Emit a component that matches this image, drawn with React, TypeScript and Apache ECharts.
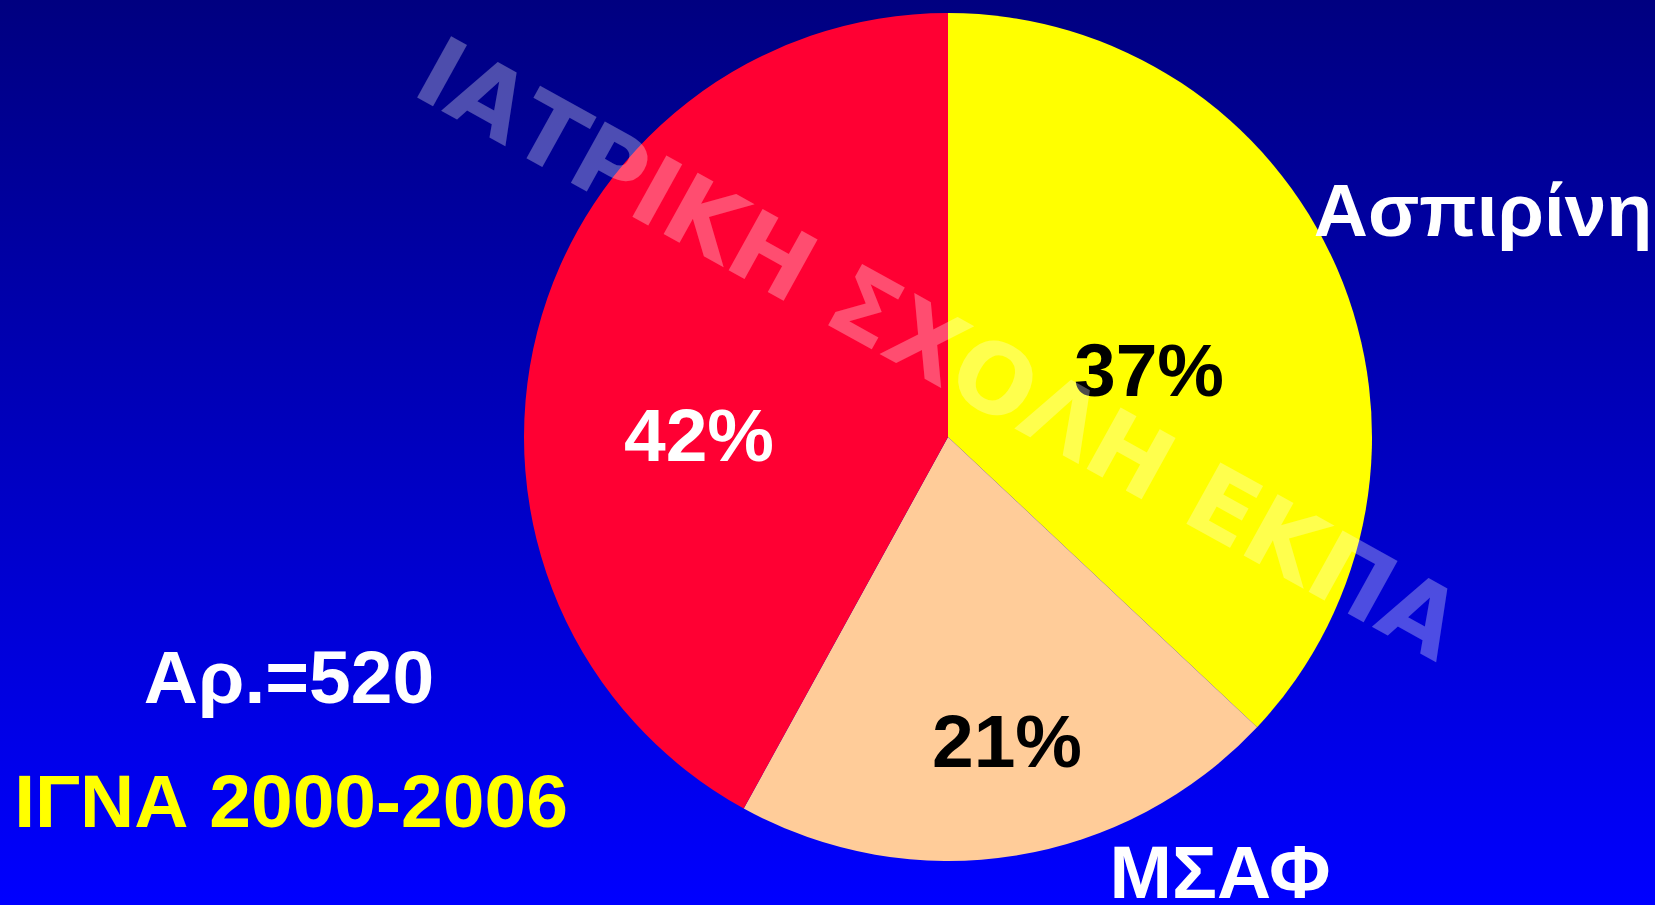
import React, { useEffect, useRef } from "react";
import * as echarts from "echarts";

// ---- data ----
const categories = ["Ασπιρίνη", "ΜΣΑΦ", ""];
const percentValues = [37, 21, 42];
const sliceColors = ["#FFFF00", "#FFCC99", "#FF0033"];
const percentLabelColors = ["#000000", "#000000", "#FFFFFF"];
const sampleNote = "Αρ.=520";
const sourceNote = "ΙΓΝΑ 2000-2006";
const watermarkText = "ΙΑΤΡΙΚΗ ΣΧΟΛΗ ΕΚΠΑ";

// label anchor positions (page pixels)
const percentLabelPos = [
  [1149, 370],
  [1007, 741],
  [699, 435],
];
const namePos = [
  [1483, 210],
  [1220, 872],
];

const FONT = '"Liberation Sans", Arial, sans-serif';

export default function App() {
  const ref = useRef<HTMLDivElement>(null);
  useEffect(() => {
    if (!ref.current) return;
    const chart = echarts.init(ref.current, undefined, { renderer: "svg" });
    const data = percentValues.map((v, i) => ({
      value: v,
      name: categories[i],
      itemStyle: { color: sliceColors[i] },
      label: { color: percentLabelColors[i] },
    }));
    const nameTexts = namePos.map((p, i) => ({
      type: "text",
      x: p[0],
      y: p[1],
      z: 50,
      style: {
        text: categories[i],
        fill: "#FFFFFF",
        font: `bold 75px ${FONT}`,
        textAlign: "center",
        textVerticalAlign: "middle",
      },
    }));
    chart.setOption({
      animation: false,
      backgroundColor: new echarts.graphic.LinearGradient(0, 0, 0, 1, [
        { offset: 0, color: "#000080" },
        { offset: 1, color: "#0000FF" },
      ]),
      series: [
        {
          type: "pie",
          center: [948, 437],
          radius: 424,
          startAngle: 90,
          clockwise: true,
          silent: true,
          data,
          itemStyle: { borderWidth: 0 },
          label: {
            show: true,
            position: "inside",
            formatter: "{c}%",
            fontFamily: FONT,
            fontWeight: "bold",
            fontSize: 75,
          },
          labelLine: { show: false },
          labelLayout: (params: any) => {
            const p = percentLabelPos[params.dataIndex];
            return { x: p[0], y: p[1], align: "center", verticalAlign: "middle" };
          },
        },
      ],
      graphic: [
        ...nameTexts,
        {
          type: "text",
          x: 289,
          y: 677,
          z: 50,
          style: {
            text: sampleNote,
            fill: "#FFFFFF",
            font: `bold 75px ${FONT}`,
            textAlign: "center",
            textVerticalAlign: "middle",
          },
        },
        {
          type: "text",
          x: 291,
          y: 801,
          z: 50,
          style: {
            text: sourceNote,
            fill: "#FFFF00",
            font: `bold 75px ${FONT}`,
            textAlign: "center",
            textVerticalAlign: "middle",
          },
        },
        {
          type: "text",
          x: 939,
          y: 349,
          z: 100,
          rotation: (-29 * Math.PI) / 180,
          style: {
            text: watermarkText,
            fill: "rgba(255,255,255,0.3)",
            font: `bold 96px "DejaVu Sans", Verdana, sans-serif`,
            textAlign: "center",
            textVerticalAlign: "middle",
          },
        },
      ],
    });
    return () => chart.dispose();
  }, []);
  return (
    <div
      ref={ref}
      style={{ position: "fixed", left: 0, top: 0, width: 1655, height: 905 }}
    />
  );
}
